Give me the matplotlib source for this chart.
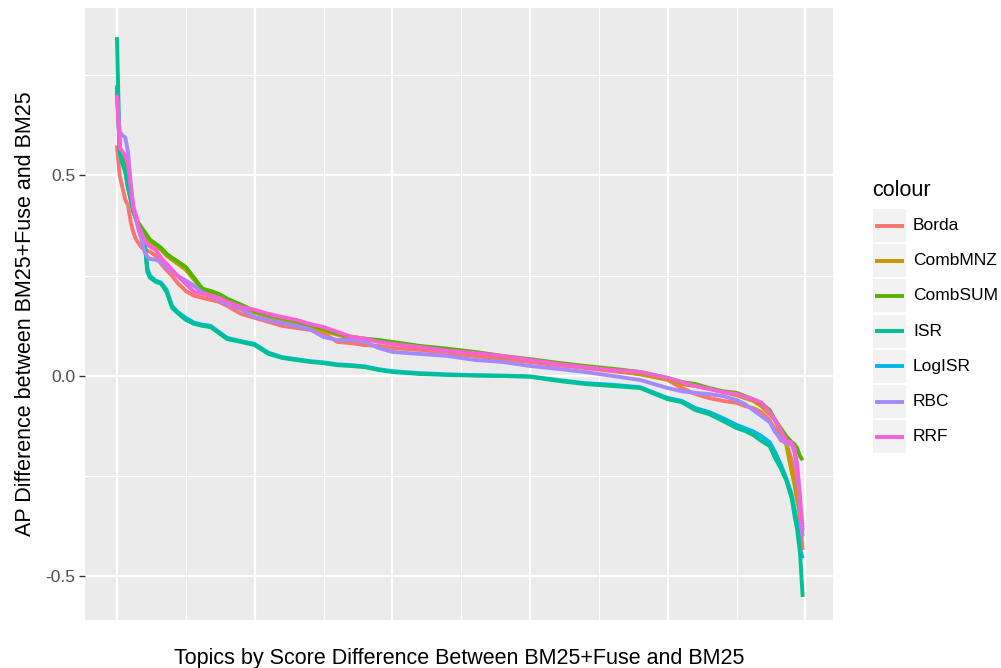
import matplotlib
matplotlib.use("Agg")
import matplotlib.pyplot as plt
from matplotlib.patches import Rectangle
from matplotlib.lines import Line2D

plt.rcParams["font.family"] = ["Liberation Sans", "DejaVu Sans"]

# topic rank (sorted by score difference)
ranks = [0, 1, 2, 3, 4, 5, 6, 7, 8, 9, 10, 11, 12,
         14, 16, 18, 20, 22,
         25, 28, 31, 34, 37, 40,
         45, 50, 55, 60, 65, 70, 75, 80, 85, 90, 95, 100,
         110, 120, 130, 140, 150, 160, 170, 180, 190, 200,
         205, 210, 215, 220, 225,
         228, 231, 234, 237,
         239, 241, 243, 245,
         246, 247, 248, 249]

borda = [0.575, 0.50, 0.47, 0.44, 0.426, 0.384, 0.357, 0.34, 0.33, 0.32, 0.317, 0.312, 0.31,
         0.30, 0.28, 0.264, 0.25, 0.232,
         0.212, 0.2, 0.195, 0.19, 0.185, 0.175,
         0.155, 0.145, 0.135, 0.125, 0.12, 0.115, 0.107, 0.085, 0.082, 0.077, 0.075, 0.07,
         0.065, 0.057, 0.05, 0.042, 0.035, 0.027, 0.02, 0.012, 0.005, -0.01,
         -0.03, -0.045, -0.055, -0.062, -0.067,
         -0.075, -0.08, -0.09, -0.11,
         -0.135, -0.16, -0.167, -0.21,
         -0.247, -0.285, -0.36, -0.434]

comb_mnz = [0.725, 0.57, 0.55, 0.535, 0.50, 0.45, 0.41, 0.39, 0.375, 0.365, 0.355, 0.345, 0.335,
            0.325, 0.315, 0.30, 0.29, 0.28,
            0.265, 0.24, 0.215, 0.207, 0.2, 0.188,
            0.172, 0.158, 0.148, 0.14, 0.13, 0.12, 0.113, 0.103, 0.095, 0.09, 0.087, 0.082,
            0.073, 0.065, 0.057, 0.048, 0.04, 0.031, 0.022, 0.015, 0.004, -0.008,
            -0.02, -0.025, -0.032, -0.04, -0.048,
            -0.055, -0.062, -0.075, -0.095,
            -0.11, -0.145, -0.17, -0.24,
            -0.27, -0.31, -0.34, -0.37]

comb_sum = [0.72, 0.57, 0.55, 0.54, 0.50, 0.45, 0.41, 0.39, 0.38, 0.37, 0.36, 0.35, 0.34,
            0.33, 0.32, 0.305, 0.295, 0.286,
            0.272, 0.245, 0.218, 0.212, 0.205, 0.193,
            0.178, 0.162, 0.152, 0.145, 0.137, 0.127, 0.118, 0.106, 0.098, 0.093, 0.09, 0.085,
            0.075, 0.068, 0.06, 0.05, 0.042, 0.033, 0.025, 0.018, 0.01, -0.005,
            -0.015, -0.02, -0.03, -0.038, -0.042,
            -0.05, -0.058, -0.068, -0.085,
            -0.11, -0.13, -0.15, -0.165,
            -0.17, -0.18, -0.2, -0.21]

isr = [0.845, 0.56, 0.53, 0.51, 0.47, 0.44, 0.41, 0.39, 0.37, 0.35, 0.34, 0.26, 0.245,
       0.235, 0.23, 0.21, 0.17, 0.157,
       0.14, 0.13, 0.125, 0.122, 0.107, 0.092,
       0.085, 0.077, 0.055, 0.045, 0.04, 0.035, 0.032, 0.027, 0.025, 0.022, 0.015, 0.01,
       0.005, 0.0025, 0.001, 0.0, -0.002, -0.012, -0.02, -0.025, -0.03, -0.058,
       -0.065, -0.085, -0.095, -0.112, -0.13,
       -0.137, -0.147, -0.162, -0.175,
       -0.205, -0.23, -0.26, -0.305,
       -0.347, -0.384, -0.44, -0.551]

log_isr = [0.72, 0.56, 0.53, 0.51, 0.47, 0.44, 0.41, 0.39, 0.37, 0.352, 0.34, 0.27, 0.25,
           0.238, 0.233, 0.215, 0.175, 0.16,
           0.145, 0.133, 0.128, 0.125, 0.11, 0.095,
           0.087, 0.08, 0.058, 0.047, 0.042, 0.037, 0.034, 0.029, 0.027, 0.024, 0.017, 0.012,
           0.007, 0.004, 0.002, 0.001, -0.001, -0.01, -0.018, -0.022, -0.028, -0.055,
           -0.062, -0.08, -0.09, -0.105, -0.122,
           -0.13, -0.138, -0.15, -0.165,
           -0.19, -0.22, -0.255, -0.295,
           -0.33, -0.37, -0.43, -0.455]

rbc = [0.70, 0.61, 0.60, 0.595, 0.56, 0.48, 0.42, 0.39, 0.36, 0.34, 0.31, 0.298, 0.292,
       0.29, 0.285, 0.272, 0.26, 0.25,
       0.238, 0.225, 0.208, 0.2, 0.19, 0.18,
       0.167, 0.147, 0.14, 0.132, 0.125, 0.117, 0.097, 0.09, 0.09, 0.085, 0.07, 0.06,
       0.055, 0.05, 0.04, 0.035, 0.025, 0.018, 0.01, 0.0, -0.01, -0.03,
       -0.038, -0.042, -0.045, -0.05, -0.06,
       -0.07, -0.085, -0.1, -0.115,
       -0.14, -0.155, -0.168, -0.172,
       -0.19, -0.24, -0.32, -0.40]

rrf = [0.70, 0.57, 0.56, 0.55, 0.53, 0.47, 0.42, 0.40, 0.37, 0.355, 0.34, 0.33, 0.323,
       0.315, 0.295, 0.28, 0.265, 0.25,
       0.23, 0.21, 0.205, 0.2, 0.195, 0.185,
       0.172, 0.165, 0.155, 0.147, 0.14, 0.13, 0.122, 0.11, 0.098, 0.093, 0.085, 0.08,
       0.072, 0.063, 0.057, 0.05, 0.04, 0.03, 0.022, 0.015, 0.01, -0.005,
       -0.015, -0.025, -0.032, -0.04, -0.045,
       -0.052, -0.058, -0.066, -0.09,
       -0.11, -0.135, -0.16, -0.167,
       -0.18, -0.22, -0.3, -0.385]

methods = ["Borda", "CombMNZ", "CombSUM", "ISR", "LogISR", "RBC", "RRF"]
series = [borda, comb_mnz, comb_sum, isr, log_isr, rbc, rrf]
colors = ["#F8766D", "#C49A00", "#53B400", "#00C094", "#00B6EB", "#A58AFF", "#FB61D7"]
# ISR sits over LogISR in the original, everything else in legend order
layer = [3, 4, 5, 7, 6, 8, 9]

W, H = 1001, 668
fig = plt.figure(figsize=(W / 100, H / 100), dpi=100)
fig.patch.set_facecolor("white")

# panel in pixel coords: x 85..833, y 8..620
ax = fig.add_axes([85 / W, 1 - 620 / H, (833 - 85) / W, (620 - 8) / H])
ax.set_facecolor("#EBEBEB")
for s in ax.spines.values():
    s.set_visible(False)

ax.set_xlim(-11.6, 260.0)
ax.set_ylim(-0.6085, 0.9177)

ax.set_xticks([0, 50, 100, 150, 200, 250])
ax.set_xticks([25, 75, 125, 175, 225], minor=True)
ax.set_yticks([-0.5, 0.0, 0.5])
ax.set_yticks([-0.25, 0.25, 0.75], minor=True)
ax.set_yticklabels(["-0.5", "0.0", "0.5"])
ax.grid(which="major", color="white", linewidth=1.6)
ax.grid(which="minor", color="white", linewidth=0.8)
ax.set_axisbelow(True)
ax.tick_params(axis="x", which="both", length=0, labelbottom=False)
ax.tick_params(axis="y", which="major", length=4, width=1.0, color="#333333",
               labelsize=12.5, labelcolor="#4D4D4D", pad=3)
ax.tick_params(axis="y", which="minor", length=0)

for name, ys, c, z in zip(methods, series, colors, layer):
    ax.plot(ranks, ys, color=c, linewidth=2.8, solid_joinstyle="round",
            solid_capstyle="butt", zorder=z)

ax.set_xlabel("Topics by Score Difference Between BM25+Fuse and BM25",
              fontsize=15.5, labelpad=20)
ax.set_ylabel("AP Difference between BM25+Fuse and BM25", fontsize=15.5, labelpad=7)

# legend drawn in pixel space
lg = fig.add_axes([0, 0, 1, 1], facecolor="none")
lg.set_xlim(0, W)
lg.set_ylim(H, 0)
lg.axis("off")
lg.text(872, 191, "colour", fontsize=15.5, va="center", ha="left")
y0, step = 209, 35.2
for i, (name, c) in enumerate(zip(methods, colors)):
    top = y0 + i * step
    lg.add_patch(Rectangle((873, top), 33, 33, facecolor="#F2F2F2", edgecolor="none"))
    cy = top + 16.5
    lg.add_line(Line2D([875, 904], [cy, cy], color=c, linewidth=2.8, solid_capstyle="butt"))
    lg.text(913, cy, name, fontsize=12.5, va="center", ha="left")

fig.savefig("out.png", dpi=100, facecolor="white")
